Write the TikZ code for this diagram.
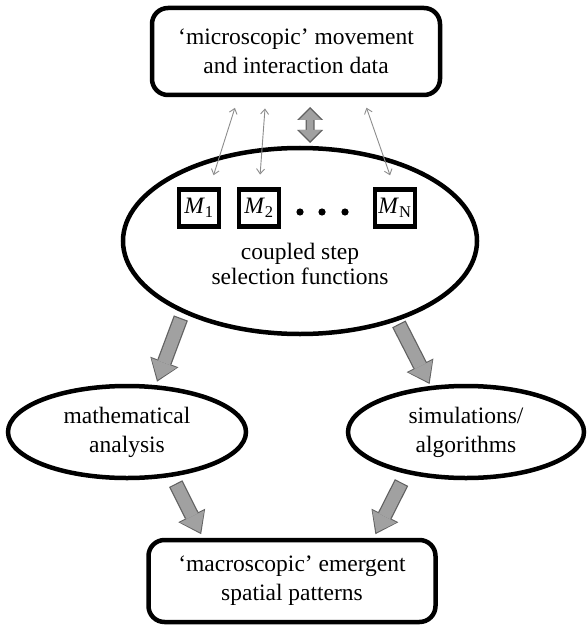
\documentclass[tikz,border=0pt]{standalone}
\usepackage{fontspec}
\setmainfont{Liberation Serif}
\usetikzlibrary{shapes.geometric,arrows.meta}

\newcommand{\diafont}{\fontsize{23.5bp}{29bp}\selectfont}
\tikzstyle{bxS}=[rectangle,draw,line width=4.5bp,rounded corners=16bp,inner sep=0pt,outer sep=0pt,align=center,font=\diafont]
\tikzstyle{elS}=[ellipse,draw,line width=4.5bp,inner sep=0pt,outer sep=0pt,align=center,font=\diafont]
\tikzstyle{mS}=[rectangle,draw,line width=4.5bp,minimum width=40bp,minimum height=37bp,inner sep=0pt,outer sep=0pt,font=\diafont]
\tikzstyle{tS}=[inner sep=0pt,align=center,font=\fontsize{23.5bp}{24.5bp}\selectfont]
\tikzstyle{aS}=[draw=black!45,line width=0.9bp,{Straight Barb[length=5bp,width=8bp]}-{Straight Barb[length=5bp,width=8bp]}]
\tikzstyle{baO}=[draw=black!62,line width=15bp,-{Triangle[width=30bp,length=21bp,line width=0pt]}]
\tikzstyle{baI}=[draw=black!37,line width=12.5bp,-{Triangle[width=27bp,length=18bp,line width=0pt]}]
\tikzstyle{daO}=[draw=black!62,line width=9bp,{Triangle[width=26bp,length=13bp,line width=0pt]}-{Triangle[width=26bp,length=13bp,line width=0pt]}]
\tikzstyle{daI}=[draw=black!37,line width=6.5bp,{Triangle[width=22bp,length=11bp,line width=0pt]}-{Triangle[width=22bp,length=11bp,line width=0pt]}]

\begin{document}
\begin{tikzpicture}[x=1bp,y=-1bp]
                \useasboundingbox (0,0) rectangle (587,627);
                \draw (296,51.5) node[bxS,minimum width=288bp,minimum height=87bp] (top) {‘microscopic’ movement\\and interaction data};
                \draw (300,241) node[elS,minimum width=354bp,minimum height=186bp] (sel) {};
                \draw (199,208) node[mS] (m1) {\textit{M}\textsubscript{1}};
                \draw (259,208) node[mS] (m2) {\textit{M}\textsubscript{2}};
                \draw (395,208) node[mS] (mN) {\textit{M}\textsubscript{N}};
                \foreach \x in {300,322,345} \fill (\x,212) circle (3.6bp);
                \draw (300,264) node[tS] (seltxt) {coupled step\\selection functions};
                \draw (127,432) node[elS,minimum width=238bp,minimum height=92bp] (math) {mathematical\\analysis};
                \draw (466,432) node[elS,minimum width=236bp,minimum height=92bp] (sim) {simulations/\\algorithms};
                \draw (292,581) node[bxS,minimum width=287bp,minimum height=82bp] (bot) {‘macroscopic’ emergent\\spatial patterns};
                \path
                    ([xshift=-57bp]top.south) edge[aS,shorten <=13.5bp,shorten >=15bp] ([xshift=10bp]m1.north)
                    ([xshift=-30bp]top.south) edge[aS,shorten <=13.5bp,shorten >=15bp] (m2.north)
                    ([xshift=66bp]top.south) edge[aS,shorten <=13.5bp,shorten >=15bp] (mN.north)
                ;
                % outline, then fill
                \path
                    (sel.211) edge[baO,shorten <=7.5bp,shorten >=6bp] (math.58)
                    (sel.321) edge[baO,shorten <=5.5bp,shorten >=4.5bp] (sim.128)
                    (math.316) edge[baO,shorten <=10bp,shorten >=6.5bp] (bot.155)
                    (sim.214) edge[baO,shorten <=12bp,shorten >=6.5bp] (bot.27)
                    ([xshift=14bp]top.south) edge[daO,shorten <=12bp,shorten >=5bp] ([xshift=10bp]sel.north)
                ;
                \path
                    (sel.211) edge[baI,shorten <=8.7bp,shorten >=8bp] (math.58)
                    (sel.321) edge[baI,shorten <=6.7bp,shorten >=6.5bp] (sim.128)
                    (math.316) edge[baI,shorten <=11.2bp,shorten >=8.5bp] (bot.155)
                    (sim.214) edge[baI,shorten <=13.2bp,shorten >=8.5bp] (bot.27)
                    ([xshift=14bp]top.south) edge[daI,shorten <=14bp,shorten >=7bp] ([xshift=10bp]sel.north)
                ;
        \end{tikzpicture}
\end{document}
